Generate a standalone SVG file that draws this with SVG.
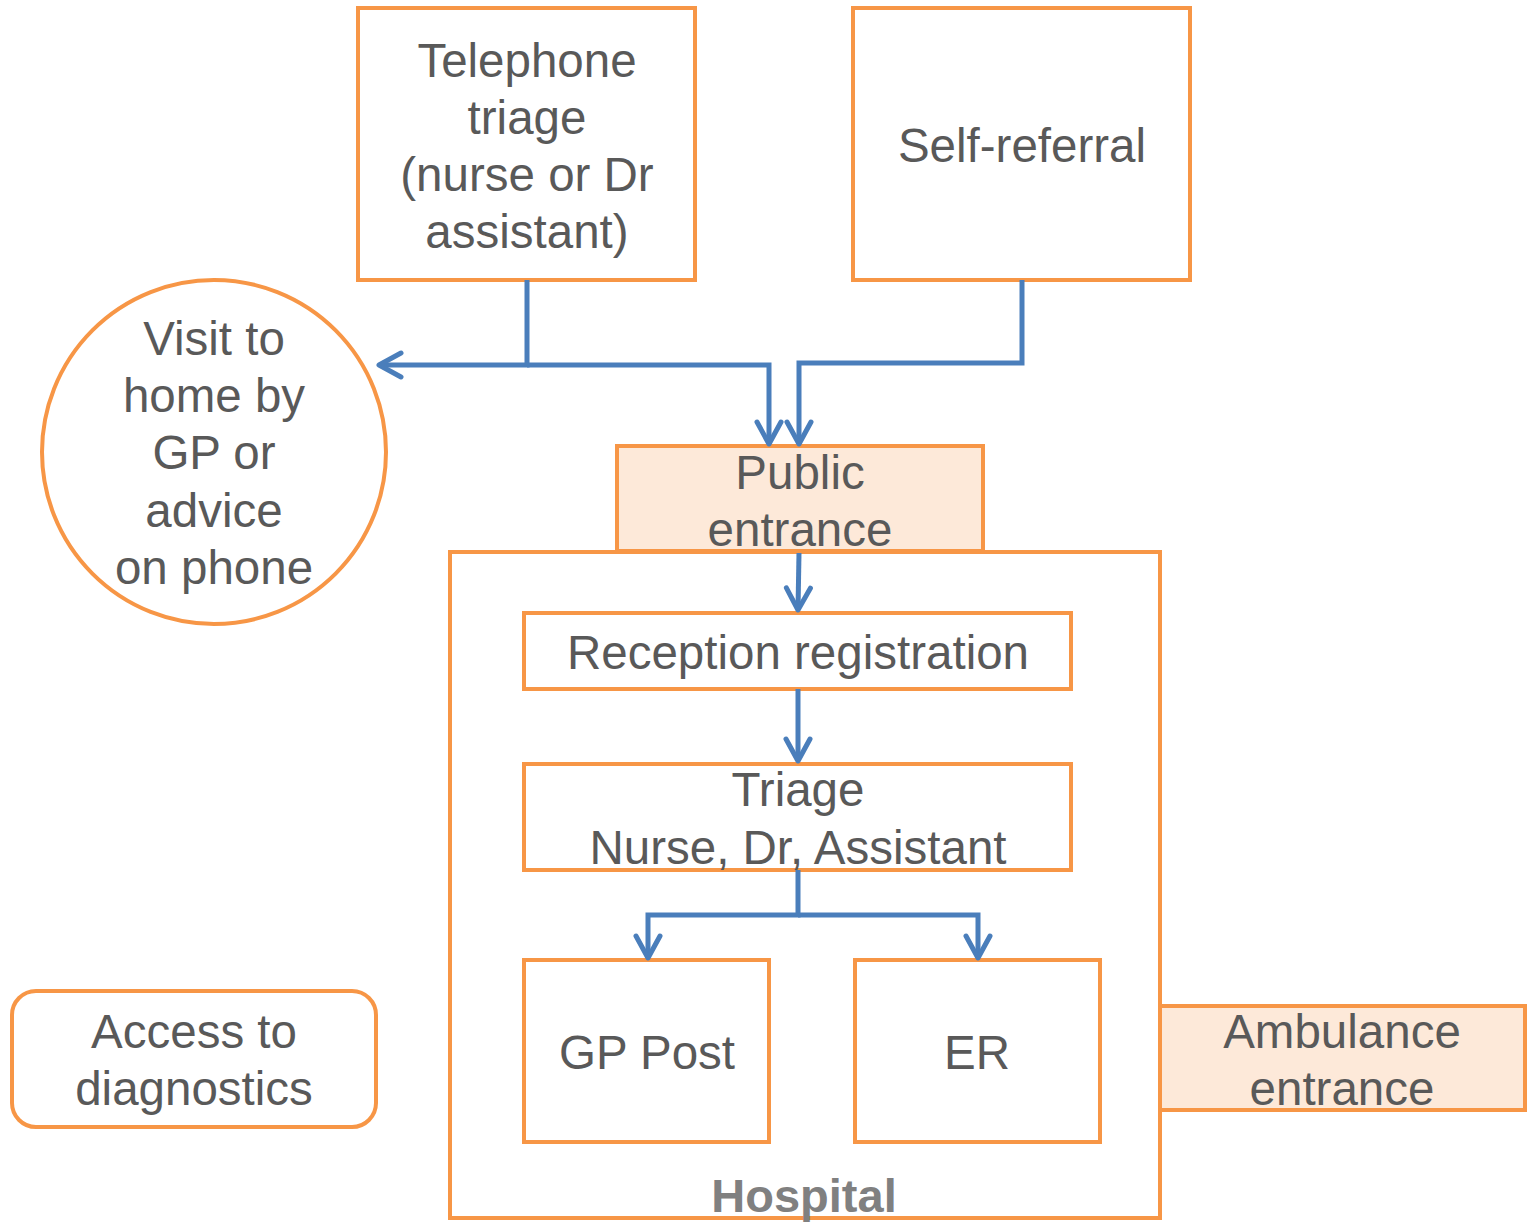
<svg xmlns="http://www.w3.org/2000/svg" width="1537" height="1225" viewBox="0 0 1537 1225">
<style>
.box{fill:#fff;stroke:#F79646;stroke-width:4}
.ent{fill:#FDE9D9;stroke:#F79646;stroke-width:4}
.t{font-family:"Liberation Sans",Arial,sans-serif;font-size:47.5px;fill:#595959;text-anchor:middle}
.h{font-family:"Liberation Sans",Arial,sans-serif;font-size:47px;font-weight:bold;fill:#808080;text-anchor:middle}
.c{fill:none;stroke:#4A7EBB;stroke-width:5;stroke-linejoin:miter}
</style>
<defs>
<marker id="a" viewBox="0 0 30 30" refX="26" refY="15" markerWidth="30" markerHeight="30" markerUnits="userSpaceOnUse" orient="auto">
<path d="M4,3 L26,15 L4,27" fill="none" stroke="#4A7EBB" stroke-width="5" stroke-linecap="round" stroke-linejoin="round"/>
</marker>
</defs>
<rect width="1537" height="1225" fill="#fff"/>
<g id="hospital">
<rect class="box" x="450" y="552" width="710" height="666"/>
</g>
<g id="telephone-triage">
<rect class="box" x="358" y="8" width="337" height="272"/>
<text class="t" x="527" y="77">Telephone</text>
<text class="t" x="527" y="134">triage</text>
<text class="t" x="527" y="191">(nurse or Dr</text>
<text class="t" x="527" y="248">assistant)</text>
</g>
<g id="self-referral">
<rect class="box" x="853" y="8" width="337" height="272"/>
<text class="t" x="1022" y="162">Self-referral</text>
</g>
<g id="home-visit">
<circle class="box" cx="214" cy="452" r="172"/>
<text class="t" x="214" y="355">Visit to</text>
<text class="t" x="214" y="412">home by</text>
<text class="t" x="214" y="469">GP or</text>
<text class="t" x="214" y="527">advice</text>
<text class="t" x="214" y="584">on phone</text>
</g>
<g id="public-entrance">
<rect class="ent" x="617" y="446" width="366" height="105"/>
<text class="t" x="800" y="489">Public</text>
<text class="t" x="800" y="546">entrance</text>
</g>
<g id="reception">
<rect class="box" x="524" y="613" width="547" height="76"/>
<text class="t" x="798" y="669">Reception registration</text>
</g>
<g id="triage">
<rect class="box" x="524" y="764" width="547" height="106"/>
<text class="t" x="798" y="806">Triage</text>
<text class="t" x="798" y="864">Nurse, Dr, Assistant</text>
</g>
<g id="gp-post">
<rect class="box" x="524" y="960" width="245" height="182"/>
<text class="t" x="647" y="1069">GP Post</text>
</g>
<g id="er">
<rect class="box" x="855" y="960" width="245" height="182"/>
<text class="t" x="977" y="1069">ER</text>
</g>
<g id="ambulance-entrance">
<rect class="ent" x="1160" y="1006" width="365" height="104"/>
<text class="t" x="1342" y="1048">Ambulance</text>
<text class="t" x="1342" y="1105">entrance</text>
</g>
<g id="access-diagnostics">
<rect class="box" x="12" y="991" width="364" height="136" rx="24"/>
<text class="t" x="194" y="1048">Access to</text>
<text class="t" x="194" y="1105">diagnostics</text>
</g>
<g id="hospital-label">
<text class="h" x="804" y="1212">Hospital</text>
</g>
<g id="connectors">
<path class="c" d="M527,280 V365 H379" marker-end="url(#a)"/>
<path class="c" d="M527,365 H769 V444" marker-end="url(#a)"/>
<path class="c" d="M1022,280 V363 H799 V444" marker-end="url(#a)"/>
<path class="c" d="M799,553 L798,610" marker-end="url(#a)"/>
<path class="c" d="M798,689 V761" marker-end="url(#a)"/>
<path class="c" d="M798,870 V915 H648 V958" marker-end="url(#a)"/>
<path class="c" d="M798,915 H978 V958" marker-end="url(#a)"/>
</g>
</svg>
